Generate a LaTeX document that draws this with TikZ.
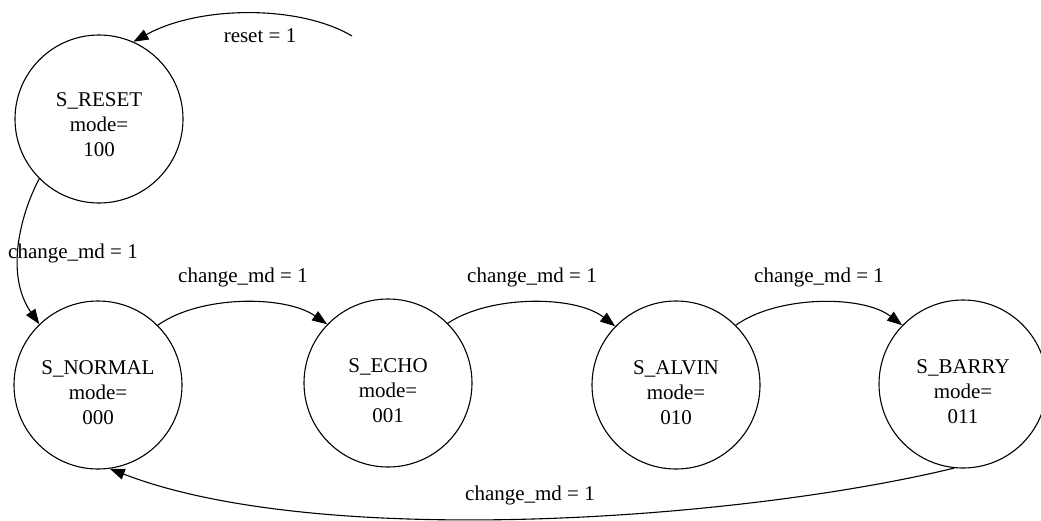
\documentclass[tikz,border=0pt]{standalone}
\usepackage{fontspec}
\setmainfont{Liberation Serif}
\usetikzlibrary{arrows.meta}
\begin{document}
\begin{tikzpicture}[x=1pt,y=-1pt,
  state/.style={draw, circle, minimum size=168pt, inner sep=0pt, line width=1.1pt},
  txt/.style={font=\fontsize{21}{25}\selectfont, align=center, inner sep=0pt},
  edge/.style={line width=1.1pt, -{Triangle[length=15pt,width=11pt]}},
  lbl/.style={font=\fontsize{21}{25}\selectfont, inner sep=0pt}]
\useasboundingbox (0,0) rectangle (1041,520);
\node[state, label={[txt, yshift=-6pt, name=Rt]center:{S\_RESET\\mode=\\100}}] (R) at (99,119) {};
\node[state, label={[txt, yshift=-8pt, name=Nt]center:{S\_NORMAL\\mode=\\000}}] (N) at (98,385) {};
\node[state, label={[txt, yshift=-8pt, name=Et]center:{S\_ECHO\\mode=\\001}}] (E) at (388,383) {};
\node[state, label={[txt, yshift=-8pt, name=At]center:{S\_ALVIN\\mode=\\010}}] (A) at (676,385) {};
\node[state, label={[txt, yshift=-8pt, name=Bt]center:{S\_BARRY\\mode=\\011}}] (B) at (963,384) {};
\coordinate (rs) at (352,36);
\draw[edge] (rs) .. controls (300,5) and (200,5) .. (R.66);
\node[lbl] (l0) at (260,36) {reset = 1};
\draw[edge] (R.225) .. controls (20,215) and (5,275) .. (N.134);
\node[lbl] (l1) at (73,253) {change\_md = 1};
\draw[edge] (N.45) .. controls (200,295) and (285,295) .. (E.136);
\node[lbl] (l2) at (243,277) {change\_md = 1};
\draw[edge] (E.45) .. controls (490,295) and (575,295) .. (A.136);
\node[lbl] (l3) at (532,277) {change\_md = 1};
\draw[edge] (A.45) .. controls (778,295) and (863,295) .. (B.136);
\node[lbl] (l4) at (819,277) {change\_md = 1};
\draw[edge] (B.264) .. controls (740,520) and (320,550) .. (N.278);
\node[lbl] (l5) at (530,495) {change\_md = 1};
\end{tikzpicture}
\end{document}
